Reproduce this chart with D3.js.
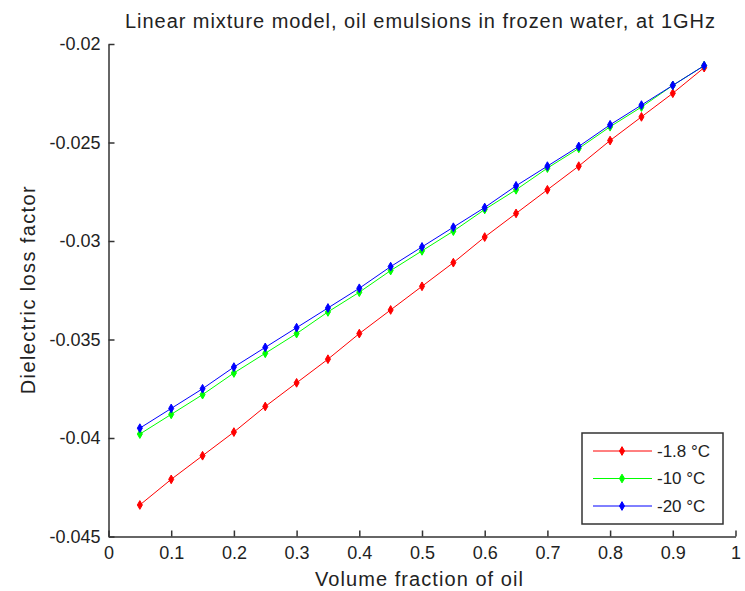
<!DOCTYPE html>
<html>
<head>
<meta charset="utf-8">
<title>Linear mixture model</title>
<script src="https://cdn.jsdelivr.net/npm/d3@7"></script>
<style>
    body { margin: 0; background: #fff; }
    text { font-family: "Liberation Sans", Arial, sans-serif; fill: #222; }
    .axis path, .axis line { stroke: #333; stroke-width: 1.5; }
    .axis text { font-size: 18px; fill: #222; font-family: "Liberation Sans", Arial, sans-serif; }
</style>
</head>
<body>
<script>
    var fractions = [0.05, 0.1, 0.15, 0.2, 0.25, 0.3, 0.35, 0.4, 0.45, 0.5,
                     0.55, 0.6, 0.65, 0.7, 0.75, 0.8, 0.85, 0.9, 0.95];
    var lossRed = [-0.0434, -0.0421, -0.0409, -0.0397, -0.0384, -0.0372, -0.0360, -0.0347, -0.0335, -0.0323,
                   -0.0311, -0.0298, -0.0286, -0.0274, -0.0262, -0.0249, -0.0237, -0.0225, -0.0212];
    var lossGreen = [-0.0398, -0.0388, -0.0378, -0.0367, -0.0357, -0.0347, -0.0336, -0.0326, -0.0315, -0.0305,
                     -0.0295, -0.0284, -0.0274, -0.0263, -0.0253, -0.0242, -0.0232, -0.0221, -0.0211];
    var lossBlue = [-0.0395, -0.0385, -0.0375, -0.0364, -0.0354, -0.0344, -0.0334, -0.0324, -0.0313, -0.0303,
                    -0.0293, -0.0283, -0.0272, -0.0262, -0.0252, -0.0241, -0.0231, -0.0221, -0.0211];
    var seriesNames = ['-1.8 \u00b0C', '-10 \u00b0C', '-20 \u00b0C'];
    var seriesColors = ['#ff0000', '#00ff00', '#0000ff'];
    var xTicks = [0, 0.1, 0.2, 0.3, 0.4, 0.5, 0.6, 0.7, 0.8, 0.9, 1];
    var yTicks = [-0.045, -0.04, -0.035, -0.03, -0.025, -0.02];

    var series = [lossRed, lossGreen, lossBlue].map(function(vals, i) {
        return { name: seriesNames[i], color: seriesColors[i],
                 points: vals.map(function(v, j) { return [fractions[j], v]; }) };
    });

    var width = 745, height = 591;
    var plotLeft = 108.5, plotRight = 735.5, plotTop = 44, plotBottom = 536.5;

    var svg = d3.select('body').append('svg')
        .attr('width', width)
        .attr('height', height);

    var x = d3.scaleLinear().domain([0, 1]).range([plotLeft, plotRight]);
    var y = d3.scaleLinear().domain([-0.045, -0.02]).range([plotBottom, plotTop]);

    // plain hyphen minus, like matlab
    var fmt = function(d) { return String(+d.toFixed(4)); };

    var xax = d3.axisBottom(x)
        .tickValues(xTicks)
        .tickFormat(fmt)
        .tickSizeInner(-6)
        .tickSizeOuter(0)
        .tickPadding(10);

    var yax = d3.axisLeft(y)
        .tickValues(yTicks)
        .tickFormat(fmt)
        .tickSizeInner(-6)
        .tickSizeOuter(0)
        .tickPadding(8);

    svg.append('g')
        .attr('class', 'axis')
        .attr('transform', 'translate(0,' + plotBottom + ')')
        .call(xax);

    svg.append('g')
        .attr('class', 'axis')
        .attr('transform', 'translate(' + plotLeft + ',0)')
        .call(yax);

    var line = d3.line()
        .x(function(d) { return x(d[0]); })
        .y(function(d) { return y(d[1]); });

    var diamond = d3.symbol().type(d3.symbolDiamond).size(22);

    var plot = svg.append('g');
    series.forEach(function(s) {
        plot.append('path')
            .datum(s.points)
            .attr('d', line)
            .attr('fill', 'none')
            .attr('stroke', s.color)
            .attr('stroke-width', 1);
        plot.selectAll(null)
            .data(s.points).enter()
            .append('path')
            .attr('d', diamond)
            .attr('transform', function(d) { return 'translate(' + x(d[0]) + ',' + y(d[1]) + ')'; })
            .attr('fill', s.color)
            .attr('stroke', s.color)
            .attr('stroke-width', 1);
    });

    svg.append('text')
        .attr('x', 420)
        .attr('y', 28)
        .attr('text-anchor', 'middle')
        .attr('textLength', 590)
        .attr('lengthAdjust', 'spacing')
        .style('font-size', '20px')
        .text('Linear mixture model, oil emulsions in frozen water, at 1GHz');

    svg.append('text')
        .attr('x', 419)
        .attr('y', 586)
        .attr('text-anchor', 'middle')
        .attr('textLength', 208)
        .attr('lengthAdjust', 'spacing')
        .style('font-size', '20px')
        .text('Volume fraction of oil');

    svg.append('text')
        .attr('transform', 'translate(35,' + (plotTop + plotBottom) / 2 + ') rotate(-90)')
        .attr('text-anchor', 'middle')
        .attr('textLength', 208)
        .attr('lengthAdjust', 'spacing')
        .style('font-size', '20px')
        .text('Dielectric loss factor');

    var legend = svg.append('g').attr('transform', 'translate(582,433)');
    legend.append('rect')
        .attr('width', 141)
        .attr('height', 91)
        .attr('fill', '#fff')
        .attr('stroke', '#333')
        .attr('stroke-width', 1.5);
    var rows = legend.selectAll('g.row')
        .data(series).enter()
        .append('g')
        .attr('class', 'row')
        .attr('transform', function(d, i) { return 'translate(0,' + (18 + i * 27.5) + ')'; });
    rows.append('line')
        .attr('x1', 11).attr('x2', 70)
        .attr('stroke', function(d) { return d.color; })
        .attr('stroke-width', 1);
    rows.append('path')
        .attr('d', diamond)
        .attr('transform', 'translate(40,0)')
        .attr('fill', function(d) { return d.color; })
        .attr('stroke', function(d) { return d.color; });
    rows.append('text')
        .attr('x', 75)
        .attr('dy', '0.35em')
        .style('font-size', '17px')
        .text(function(d) { return d.name; });
</script>
</body>
</html>
